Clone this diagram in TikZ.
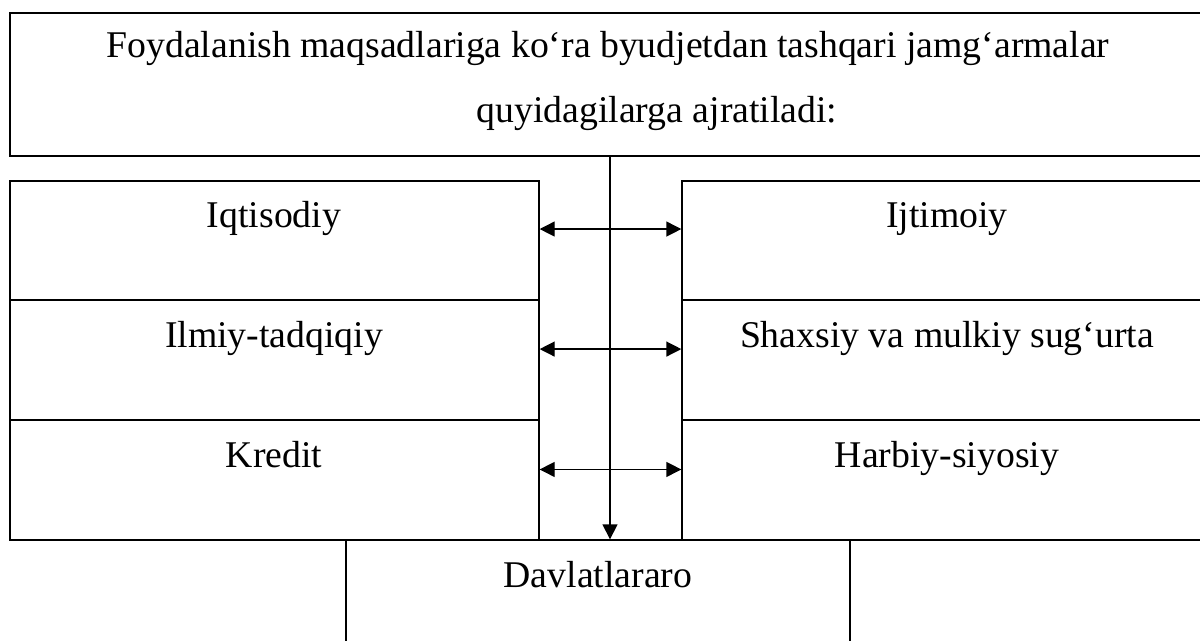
\documentclass[tikz,border=0pt]{standalone}
\usepackage{fontspec}
\setmainfont{Liberation Serif}
\usetikzlibrary{arrows.meta,fit}
\begin{document}
\begin{tikzpicture}[x=0.75pt,y=-0.75pt,
  cell/.style={draw=black,line width=1pt,inner sep=0pt,rectangle},
  txt/.style={anchor=base,inner sep=0pt,font=\fontsize{28.3}{34}\selectfont},
  link/.style={line width=1pt,{Triangle[length=11.25pt,width=11.25pt]}-{Triangle[length=11.25pt,width=11.25pt]}},
  down/.style={line width=1pt,-{Triangle[length=11.25pt,width=11.25pt]}}]
\useasboundingbox (0,0) rectangle (1200,640);
\clip (0,0) rectangle (1200,640);
% heading cell
\node[cell,fit={(10,13)(1220,156)}] (head) {};
\node[txt] (h1) at (608,57) {Foydalanish maqsadlariga ko‘ra byudjetdan tashqari jamg‘armalar};
\node[txt] (h2) at (657,122) {quyidagilarga ajratiladi:};
% left column
\node[cell,fit={(10,181)(539,300)}] (l1) {};
\node[cell,fit={(10,300)(539,420)}] (l2) {};
\node[cell,fit={(10,420)(539,540)}] (l3) {};
% right column
\node[cell,fit={(682,181)(1212,300)}] (r1) {};
\node[cell,fit={(682,300)(1212,420)}] (r2) {};
\node[cell,fit={(682,420)(1212,540)}] (r3) {};
% bottom row
\node[cell,fit={(346,540)(850,700)}] (b) {};
\draw[line width=1pt] (10,540) -- (1212,540);
% labels
\node[txt] (t1) at (274,227) {Iqtisodiy};
\node[txt] (t2) at (274,347) {Ilmiy-tadqiqiy};
\node[txt] (t3) at (274,467) {Kredit};
\node[txt] (u1) at (947,227) {Ijtimoiy};
\node[txt] (u2) at (947,347) {Shaxsiy va mulkiy sug‘urta};
\node[txt] (u3) at (947,467) {Harbiy-siyosiy};
\node[txt] (d) at (598,587) {Davlatlararo};
% connectors
\coordinate (axis) at (610,0);
\draw[down] (head.south -| axis) -- (b.north -| axis);
\draw[link] ([yshift=8.6pt]l1.east) -- ([yshift=8.6pt]r1.west);
\draw[link] ([yshift=8.2pt]l2.east) -- ([yshift=8.2pt]r2.west);
\draw[link] ([yshift=7.9pt]l3.east) -- ([yshift=7.9pt]r3.west);
\end{tikzpicture}
\end{document}
